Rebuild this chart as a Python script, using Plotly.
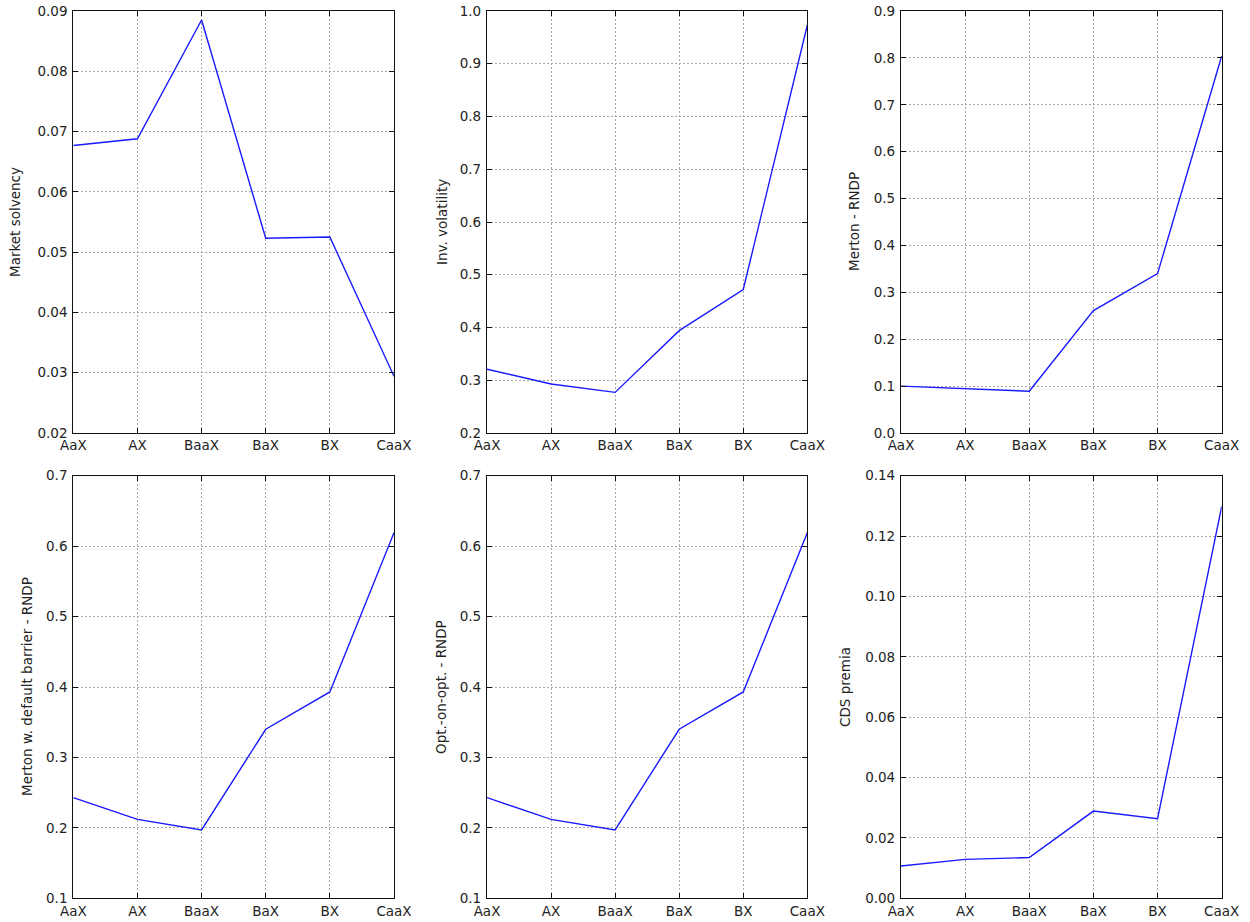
import plotly.graph_objects as go
from plotly.subplots import make_subplots

ratings = ["AaX", "AX", "BaaX", "BaX", "BX", "CaaX"]

market_solvency = [0.0677, 0.0688, 0.0885, 0.0523, 0.0525, 0.0294]
inv_volatility = [0.321, 0.293, 0.277, 0.394, 0.472, 0.973]
merton_rndp = [0.100, 0.094, 0.089, 0.261, 0.340, 0.804]
merton_barrier_rndp = [0.243, 0.212, 0.197, 0.340, 0.393, 0.619]
opt_on_opt_rndp = [0.243, 0.212, 0.197, 0.340, 0.393, 0.619]
cds_premia = [0.0107, 0.0129, 0.0135, 0.0289, 0.0264, 0.1298]

panels = [
    ("Market solvency", market_solvency, (0.02, 0.09), 0.01, ".2f"),
    ("Inv. volatility", inv_volatility, (0.2, 1.0), 0.1, ".1f"),
    ("Merton - RNDP", merton_rndp, (0.0, 0.9), 0.1, ".1f"),
    ("Merton w. default barrier - RNDP", merton_barrier_rndp, (0.1, 0.7), 0.1, ".1f"),
    ("Opt.-on-opt. - RNDP", opt_on_opt_rndp, (0.1, 0.7), 0.1, ".1f"),
    ("CDS premia", cds_premia, (0.0, 0.14), 0.02, ".2f"),
]

W, H = 1250, 922
# pixel boxes of each plot area
cols_px = [(73.3, 394.0), (487.0, 807.3), (901.0, 1221.7)]
rows_px = [(11.0, 433.0), (475.7, 898.3)]
label_x_px = [15, 442, 854, 27, 441, 845]

font = "DejaVu Sans"
fig = make_subplots(rows=2, cols=3)

for i, (label, vals, yr, dt, fmt) in enumerate(panels):
    r, c = i // 3 + 1, i % 3 + 1
    fig.add_trace(
        go.Scatter(x=ratings, y=vals, mode="lines",
                   line=dict(color="#1a1aff", width=1.4), showlegend=False),
        row=r, col=c
    )
    xl, xr = cols_px[c - 1]
    yt, yb = rows_px[r - 1]
    axis_common = dict(
        showline=True, linecolor="#111", linewidth=1.2, mirror="ticks",
        ticks="inside", ticklen=5, tickcolor="#111", tickwidth=1,
        showgrid=True, gridcolor="#a8a8a8", griddash="2px,2px", gridwidth=1,
        zeroline=False, ticklabeloverflow="allow",
        tickfont=dict(family=font, size=13.5, color="#222"),
    )
    fig.update_xaxes(domain=[xl / W, xr / W], type="category",
                     range=[0, len(ratings) - 1], **axis_common, row=r, col=c)
    fig.update_yaxes(domain=[1 - yb / H, 1 - yt / H], range=list(yr),
                     dtick=dt, tick0=0, tickformat=fmt, ticklabelstandoff=2,
                     **axis_common, row=r, col=c)
    fig.add_annotation(
        text=label, xref="paper", yref="paper",
        x=label_x_px[i] / W, y=1 - (yt + yb) / 2 / H,
        textangle=-90, showarrow=False, xanchor="center", yanchor="middle",
        font=dict(family=font, size=13.5, color="#222"),
    )

fig.update_layout(
    width=W, height=H,
    margin=dict(l=0, r=0, t=0, b=0),
    template="none",
    paper_bgcolor="white", plot_bgcolor="white",
)

# drop the default body margin so the figure fills the window exactly
fig.write_html("out.html", config={"displayModeBar": False},
               post_script="document.body.style.margin='0';")
